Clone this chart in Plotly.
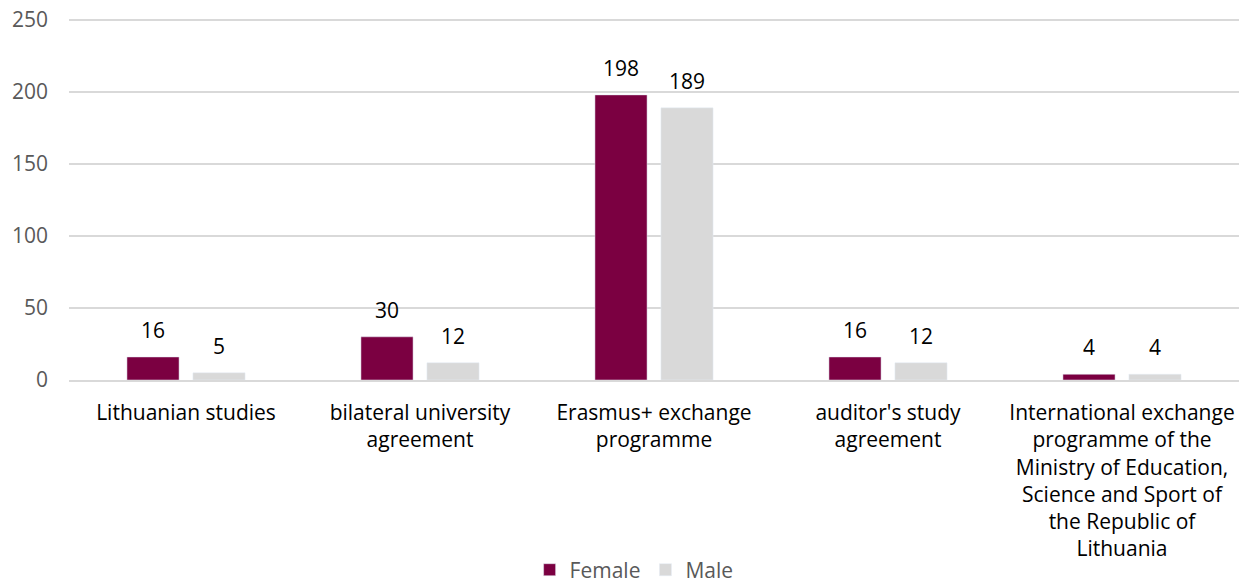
import plotly.graph_objects as go

categories = [
    "Lithuanian studies",
    "bilateral university<br>agreement",
    "Erasmus+ exchange<br>programme",
    "auditor's study<br>agreement",
    "International exchange<br>programme of the<br>Ministry of Education,<br>Science and Sport of<br>the Republic of<br>Lithuania",
]
female = [16, 30, 198, 16, 4]
male = [5, 12, 189, 12, 4]
y_ticks = [0, 50, 100, 150, 200, 250]

FONT = "Open Sans"
FS = 21

fig = go.Figure()
fig.add_trace(go.Bar(name="Female", x=categories, y=female, marker_color="#7B0041"))
fig.add_trace(go.Bar(name="Male", x=categories, y=male, marker_color="#D9D9D9"))

# value labels above each bar
for vals, shift in ((female, -33), (male, 33)):
    for c, v in zip(categories, vals):
        fig.add_annotation(
            x=c, y=v, text=str(v), showarrow=False, xshift=shift, yshift=11,
            yanchor="bottom", font=dict(size=FS, color="#000000", family=FONT),
        )

fig.update_layout(
    width=1254, height=583,
    margin=dict(l=69, r=15, t=18, b=203, autoexpand=False),
    paper_bgcolor="white", plot_bgcolor="white",
    barmode="group", bargap=0.436, bargroupgap=0.21,
    font=dict(family=FONT, size=FS, color="#595959"),
    showlegend=True,
    legend=dict(orientation="h", x=0.483, xanchor="center", y=-0.525, yanchor="middle",
                font=dict(size=FS, color="#595959"), traceorder="normal"),
)
fig.update_xaxes(
    showgrid=False, showline=True, linecolor="#D9D9D9", linewidth=1.5,
    tickfont=dict(size=FS, color="#000000", family=FONT), ticks="",
    ticklabelstandoff=13,
)
fig.update_yaxes(
    range=[0, 251.4], tickvals=y_ticks, showgrid=True, gridcolor="#D9D9D9", gridwidth=1.5,
    zeroline=False, showline=False, ticks="", ticklabeloverflow="allow",
    tickfont=dict(size=FS, color="#595959", family=FONT), ticklabelstandoff=20,
)

# remove the browser's default body margin so the figure fills the window
fig.write_html(
    "out.html",
    config={"displayModeBar": False},
    post_script="document.body.style.margin='0';document.body.style.overflow='hidden';",
)
